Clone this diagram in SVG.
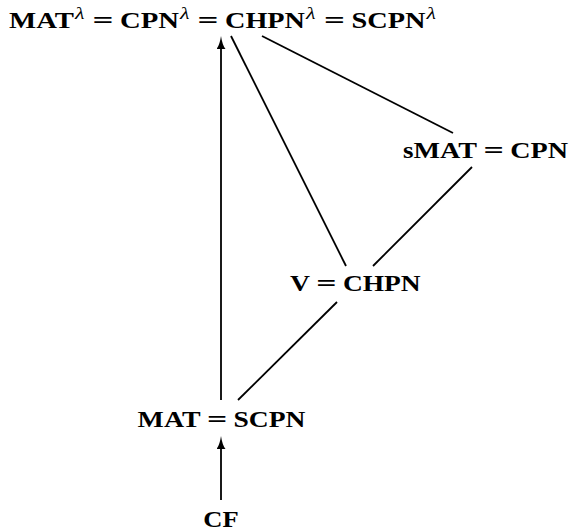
<svg xmlns="http://www.w3.org/2000/svg" width="570" height="531" viewBox="0 0 570 531">
  <style>
    .t { font-family: "Liberation Serif", "Times New Roman", serif; font-weight: bold; font-size: 23.5px; fill: #000; }
    .sup { font-family: "Liberation Serif", "Times New Roman", serif; font-style: italic; font-size: 16px; fill: #000; }
    .edge { stroke: #000; stroke-width: 1.8; fill: none; stroke-linecap: butt; }
  </style>
  <defs>
    <marker id="head" markerUnits="userSpaceOnUse" markerWidth="14" markerHeight="10" refX="3" refY="4.5" orient="auto">
      <path d="M0,0 Q4,3.2 13,4.5 Q4,5.8 0,9 Z" fill="#000"/>
    </marker>
  </defs>
  <rect width="570" height="531" fill="#fff"/>

  <!-- connectors -->
  <g id="edges">
    <line class="edge" x1="221" y1="400" x2="221" y2="46" marker-end="url(#head)"/>
    <line class="edge" x1="221" y1="500" x2="221" y2="446" marker-end="url(#head)"/>
    <line class="edge" x1="231" y1="36" x2="346" y2="266"/>
    <line class="edge" x1="262" y1="36" x2="453" y2="133"/>
    <line class="edge" x1="472" y1="167" x2="373" y2="266"/>
    <line class="edge" x1="337" y1="302" x2="238" y2="400"/>
  </g>

  <!-- top node: MAT^λ = CPN^λ = CHPN^λ = SCPN^λ -->
  <g id="top">
    <text class="t" x="9" y="28" textLength="65" lengthAdjust="spacingAndGlyphs">MAT</text>
    <text class="sup" x="75" y="19" textLength="9.5" lengthAdjust="spacingAndGlyphs">λ</text>
    <text class="t" x="92.5" y="28" textLength="21" lengthAdjust="spacingAndGlyphs">=</text>
    <text class="t" x="120" y="28" textLength="59" lengthAdjust="spacingAndGlyphs">CPN</text>
    <text class="sup" x="180" y="19" textLength="9.5" lengthAdjust="spacingAndGlyphs">λ</text>
    <text class="t" x="197.5" y="28" textLength="21" lengthAdjust="spacingAndGlyphs">=</text>
    <text class="t" x="225" y="28" textLength="80" lengthAdjust="spacingAndGlyphs">CHPN</text>
    <text class="sup" x="306" y="19" textLength="9.5" lengthAdjust="spacingAndGlyphs">λ</text>
    <text class="t" x="324" y="28" textLength="21" lengthAdjust="spacingAndGlyphs">=</text>
    <text class="t" x="351.5" y="28" textLength="74" lengthAdjust="spacingAndGlyphs">SCPN</text>
    <text class="sup" x="426.5" y="19" textLength="9.5" lengthAdjust="spacingAndGlyphs">λ</text>
  </g>

  <!-- sMAT = CPN -->
  <g id="smat">
    <text class="t" x="403" y="158" textLength="10.5" lengthAdjust="spacingAndGlyphs">s</text>
    <text class="t" x="413.5" y="158" textLength="63.5" lengthAdjust="spacingAndGlyphs">MAT</text>
    <text class="t" x="483.4" y="158" textLength="20.4" lengthAdjust="spacingAndGlyphs">=</text>
    <text class="t" x="510.2" y="158" textLength="57.8" lengthAdjust="spacingAndGlyphs">CPN</text>
  </g>

  <!-- V = CHPN -->
  <g id="v">
    <text class="t" x="290" y="291" textLength="20" lengthAdjust="spacingAndGlyphs">V</text>
    <text class="t" x="316.3" y="291" textLength="20.3" lengthAdjust="spacingAndGlyphs">=</text>
    <text class="t" x="342.9" y="291" textLength="77.8" lengthAdjust="spacingAndGlyphs">CHPN</text>
  </g>

  <!-- MAT = SCPN -->
  <g id="mat">
    <text class="t" x="137.6" y="427" textLength="63" lengthAdjust="spacingAndGlyphs">MAT</text>
    <text class="t" x="206.9" y="427" textLength="20.3" lengthAdjust="spacingAndGlyphs">=</text>
    <text class="t" x="233.5" y="427" textLength="71.9" lengthAdjust="spacingAndGlyphs">SCPN</text>
  </g>

  <!-- CF -->
  <g id="cf">
    <text class="t" x="203.3" y="527" textLength="35.4" lengthAdjust="spacingAndGlyphs">CF</text>
  </g>
</svg>
